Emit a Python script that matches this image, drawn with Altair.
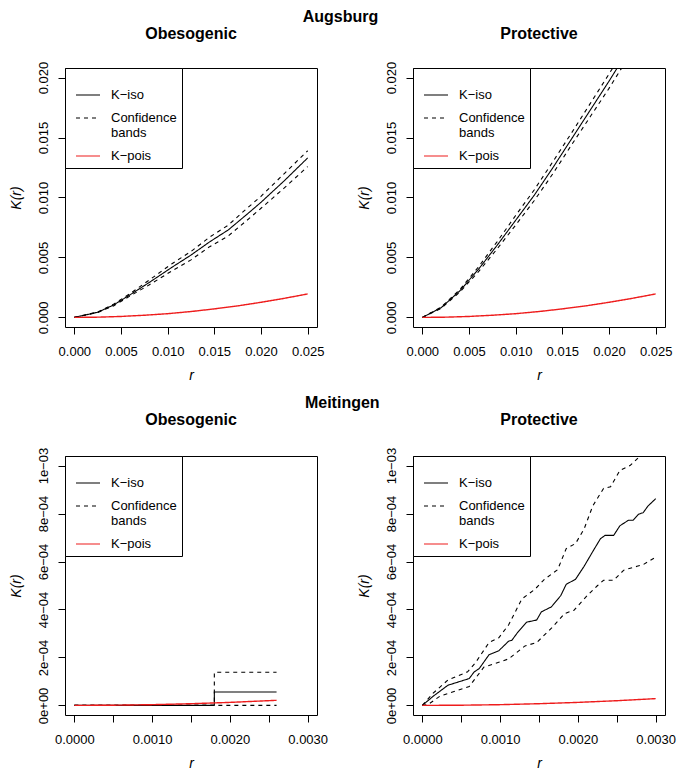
import json
import altair as alt
import pandas as pd

FONT = "Liberation Sans"
SERIES = ["K\u2212iso", "Confidence bands", "K\u2212pois"]

# ---------------- Augsburg / Obesogenic ----------------
r_ao = [0, 0.0025, 0.0042, 0.006, 0.008, 0.0105, 0.0125, 0.0145, 0.0165, 0.0185, 0.020, 0.0225, 0.025]
iso_ao = [0, 0.00043, 0.00103, 0.0019, 0.0029, 0.0042, 0.0052, 0.0063, 0.0073, 0.0086, 0.0096, 0.0114, 0.0133]
up_ao = [0, 0.00045, 0.0011, 0.0020, 0.0031, 0.0045, 0.0055, 0.0067, 0.0077, 0.0091, 0.0101, 0.0120, 0.0139]
lo_ao = [0, 0.00041, 0.00096, 0.0018, 0.0027, 0.0039, 0.0048, 0.0059, 0.0068, 0.0081, 0.0091, 0.0108, 0.01258]

# ---------------- Augsburg / Protective ----------------
r_ap = [0, 0.002, 0.004, 0.006, 0.008, 0.010, 0.012, 0.014, 0.016, 0.018, 0.020, 0.022, 0.024, 0.025]
iso_ap = [0, 0.0008, 0.0022, 0.0040, 0.0060, 0.0081, 0.0102, 0.0125, 0.0149, 0.0173, 0.0197, 0.0222, 0.0247, 0.0260]
up_ap = [0, 0.00085, 0.0023, 0.0042, 0.0063, 0.0085, 0.01065, 0.0130, 0.0154, 0.01785, 0.0203, 0.0228, 0.02535, 0.0267]
lo_ap = [0, 0.00075, 0.0021, 0.0038, 0.0057, 0.0077, 0.00975, 0.0120, 0.0144, 0.01675, 0.0191, 0.0216, 0.02405, 0.0253]

# K-pois (Augsburg, both panels)
r_pa = [0, 0.0025, 0.005, 0.0075, 0.010, 0.0125, 0.015, 0.0175, 0.020, 0.0225, 0.025]
pois_a = [0, 0.00002, 0.00008, 0.00018, 0.00031, 0.00049, 0.00071, 0.00096, 0.00126, 0.00159, 0.00196]

# ---------------- Meitingen / Obesogenic (step function) ----------------
r_mo = [0, 0.0018, 0.0026]
iso_mo = [0, 0.000056, 0.000056]
up_mo = [0, 0.000138, 0.000138]
lo_mo = [0, 0, 0]
r_pmo = [0, 0.0005, 0.001, 0.0015, 0.002, 0.0026]
pois_mo = [0, 0.0000008, 0.0000031, 0.0000071, 0.0000126, 0.0000212]

# ---------------- Meitingen / Protective ----------------
r_mp_iso = [0, 0.000139, 0.000329, 0.000603, 0.000667, 0.00073, 0.000857, 0.000983, 0.00111, 0.00115,
            0.00122, 0.00134, 0.00147, 0.00153, 0.00166, 0.00178, 0.00185, 0.00197, 0.00208, 0.00219,
            0.00229, 0.00235, 0.00246, 0.00254, 0.00265, 0.00271, 0.00278, 0.00284, 0.0029, 0.0030]
iso_mp = [0, 0.38e-4, 0.84e-4, 1.12e-4, 1.40e-4, 1.53e-4, 2.11e-4, 2.28e-4, 2.68e-4, 2.71e-4,
          3.02e-4, 3.47e-4, 3.56e-4, 3.90e-4, 4.11e-4, 4.58e-4, 5.05e-4, 5.26e-4, 5.80e-4, 6.41e-4,
          6.95e-4, 7.09e-4, 7.09e-4, 7.49e-4, 7.72e-4, 7.72e-4, 7.97e-4, 8.04e-4, 8.31e-4, 8.62e-4]
r_mp_up = [0, 0.000139, 0.000329, 0.000582, 0.000688, 0.000857, 0.000983, 0.00111, 0.00128, 0.00145,
           0.00157, 0.00174, 0.00185, 0.00197, 0.00208, 0.00219, 0.00233, 0.00242, 0.00254, 0.00267,
           0.0028, 0.0030]
up_mp = [0, 0.51e-4, 1.06e-4, 1.40e-4, 1.80e-4, 2.62e-4, 2.82e-4, 3.36e-4, 4.44e-4, 4.85e-4,
         5.26e-4, 5.66e-4, 6.54e-4, 6.75e-4, 7.36e-4, 8.31e-4, 9.05e-4, 9.12e-4, 9.80e-4, 10.0e-4,
         10.4e-4, 10.9e-4]
r_mp_lo = [0, 0.000076, 0.000224, 0.000603, 0.000793, 0.000983, 0.00111, 0.00132, 0.00147, 0.00166,
           0.00183, 0.00195, 0.00212, 0.00225, 0.00233, 0.00246, 0.00259, 0.00276, 0.00284, 0.0030]
lo_mp = [0, 0.04e-4, 0.38e-4, 0.79e-4, 1.60e-4, 1.80e-4, 1.94e-4, 2.48e-4, 2.62e-4, 3.22e-4,
         3.83e-4, 3.97e-4, 4.58e-4, 4.99e-4, 5.22e-4, 5.22e-4, 5.64e-4, 5.80e-4, 5.87e-4, 6.18e-4]
r_pmp = [0, 0.0005, 0.001, 0.0015, 0.002, 0.0025, 0.003]
pois_mp = [0, 0.0000008, 0.0000031, 0.0000071, 0.0000126, 0.0000196, 0.0000283]

# axis ticks / labels
x_ticks_a = [0, 0.005, 0.010, 0.015, 0.020, 0.025]
y_ticks_a = [0, 0.005, 0.010, 0.015, 0.020]
x_ticks_m = [0, 0.0005, 0.001, 0.0015, 0.002, 0.0025, 0.003]
y_ticks_m = [0, 0.0002, 0.0004, 0.0006, 0.0008, 0.001]
y_labels_m = ["0e+00", "2e\u221204", "4e\u221204", "6e\u221204", "8e\u221204", "1e\u221203"]

W, H = 252, 259


def lines_df(parts):
    rows = []
    for name, series, rs, ks in parts:
        for r, k in zip(rs, ks):
            rows.append({"r": r, "K": k, "series": series, "line": name})
    return pd.DataFrame(rows)


def panel(title, black_parts, red_part, xdom, ydom, xaxis, yaxis, interp="linear"):
    color = alt.Color(
        "series:N",
        scale=alt.Scale(domain=SERIES, range=["black", "black", "#ee1c1c"]),
        legend=alt.Legend(
            title=" ", titleFontSize=6, titlePadding=3,
            orient="top-left", offset=0, padding=5,
            strokeColor="black", fillColor="white", cornerRadius=0,
            symbolType="stroke", symbolSize=576, symbolStrokeWidth=1.2,
            symbolOffset=5, labelOffset=10, rowPadding=3,
            labelFont=FONT, labelFontSize=13, labelColor="black", labelLimit=200,
            labelExpr="datum.label == 'Confidence bands' ? ['Confidence', 'bands'] : datum.label",
        ),
    )
    dash = alt.StrokeDash(
        "series:N",
        scale=alt.Scale(domain=SERIES, range=[[1, 0], [4, 4], [1, 0]]),
        legend=None,
    )
    x = alt.X("r:Q", scale=alt.Scale(domain=xdom, nice=False, zero=False), axis=xaxis, title="r")
    y = alt.Y("K:Q", scale=alt.Scale(domain=ydom, nice=False, zero=False), axis=yaxis, title="K(r)")
    black = alt.Chart(lines_df(black_parts)).mark_line(
        clip=True, strokeWidth=1.1, interpolate=interp
    ).encode(x=x, y=y, color=color, strokeDash=dash, detail="line:N")
    red = alt.Chart(lines_df([red_part])).mark_line(
        clip=True, strokeWidth=1.4
    ).encode(x=x, y=y, color=color, strokeDash=dash, detail="line:N")
    return alt.layer(black, red).properties(
        width=W, height=H,
        title=alt.TitleParams(title, fontSize=16, fontWeight="bold", font=FONT,
                              anchor="middle", frame="group", offset=19),
    )


common_axis = dict(tickSize=7, labelFlush=False, labelOverlap=False, grid=False, domain=False)

xaxis_a = alt.Axis(values=x_ticks_a, format=".3f", **common_axis)
yaxis_a = alt.Axis(values=y_ticks_a, format=".3f", labelAngle=270, labelAlign="center",
                   labelBaseline="bottom", **common_axis)
xaxis_m = alt.Axis(values=x_ticks_m, **common_axis,
                   labelExpr="abs(datum.value*1000 - round(datum.value*1000)) < 1e-6 ? format(datum.value, '.4f') : ''")
yaxis_m = alt.Axis(values=y_ticks_m, labelAngle=270, labelAlign="center", labelBaseline="bottom",
                   labelExpr=json.dumps(y_labels_m) + "[round(datum.value/0.0002)]", **common_axis)

xdom_a = [-0.001, 0.026]
ydom_a = [-0.0008, 0.0208]
xdom_m = [-0.00012, 0.00312]
ydom_m = [-0.00004, 0.00104]

p_ao = panel("Obesogenic",
             [("iso", SERIES[0], r_ao, iso_ao), ("up", SERIES[1], r_ao, up_ao), ("lo", SERIES[1], r_ao, lo_ao)],
             ("pois", SERIES[2], r_pa, pois_a), xdom_a, ydom_a, xaxis_a, yaxis_a)
p_ap = panel("Protective",
             [("iso", SERIES[0], r_ap, iso_ap), ("up", SERIES[1], r_ap, up_ap), ("lo", SERIES[1], r_ap, lo_ap)],
             ("pois", SERIES[2], r_pa, pois_a), xdom_a, ydom_a, xaxis_a, yaxis_a)
p_mo = panel("Obesogenic",
             [("iso", SERIES[0], r_mo, iso_mo), ("up", SERIES[1], r_mo, up_mo), ("lo", SERIES[1], r_mo, lo_mo)],
             ("pois", SERIES[2], r_pmo, pois_mo), xdom_m, ydom_m, xaxis_m, yaxis_m, interp="step-after")
p_mp = panel("Protective",
             [("iso", SERIES[0], r_mp_iso, iso_mp), ("up", SERIES[1], r_mp_up, up_mp), ("lo", SERIES[1], r_mp_lo, lo_mp)],
             ("pois", SERIES[2], r_pmp, pois_mp), xdom_m, ydom_m, xaxis_m, yaxis_m)


def row(title, a, b):
    return alt.hconcat(a, b, spacing=96, bounds="flush").properties(
        title=alt.TitleParams(title, fontSize=16, fontWeight="bold", font=FONT,
                              anchor="middle", offset=1)
    ).resolve_scale(color="independent", strokeDash="independent").resolve_legend(
        color="independent", strokeDash="independent")


chart = alt.vconcat(
    row("Augsburg", p_ao, p_ap),
    row("Meitingen", p_mo, p_mp),
    spacing=11,
).resolve_scale(color="independent", strokeDash="independent").resolve_legend(
    color="independent", strokeDash="independent"
).properties(
    padding={"left": 0, "top": 0, "right": 0, "bottom": 0}
).configure_view(
    stroke="black", strokeWidth=1
).configure_axis(
    labelFont=FONT, labelFontSize=13, labelColor="black", labelPadding=8,
    titleFont=FONT, titleFontSize=14, titleFontWeight="normal", titleFontStyle="italic",
    titleColor="black", titlePadding=14, tickColor="black", tickWidth=1,
).configure_axisX(labelPadding=11, titlePadding=10)

chart.save("out.html", embed_options={"renderer": "svg", "actions": False})
